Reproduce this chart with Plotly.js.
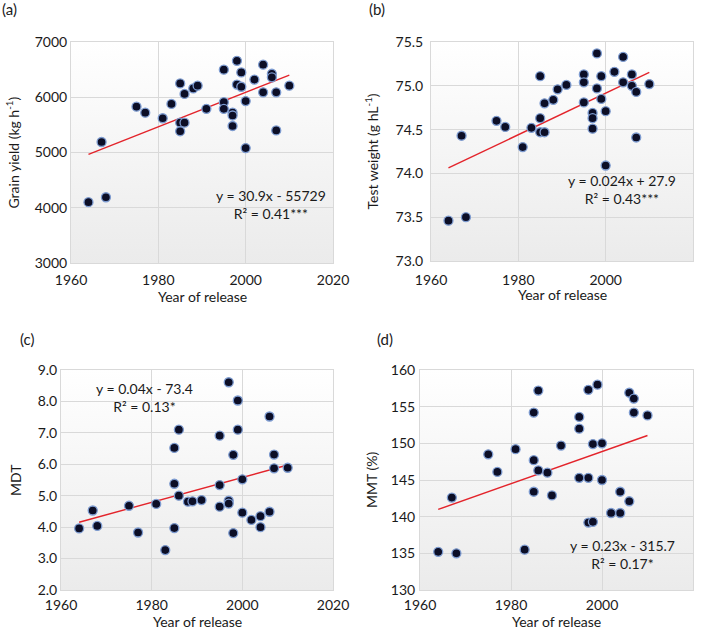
<!DOCTYPE html>
<html>
<head>
<meta charset="utf-8">
<script src="https://cdn.plot.ly/plotly-3.0.1.min.js"></script>
<style>html,body{margin:0;padding:0;background:#fff;}#chart{width:708px;height:631px;}</style>
</head>
<body>
<div id="chart"></div>
<script>
// ---- Data ----
const years = [1964,1967,1968,1975,1977,1981,1983,1985,1985,1985,1986,1986,1988,1989,1991,1995,1995,1995,1997,1997,1997,1998,1998,1999,1999,2000,2000,2002,2004,2004,2006,2006,2007,2007,2010];
const grainYield = [4100,5190,4190,5830,5720,5620,5880,6250,5540,5385,5540,6060,6160,6210,5790,6500,5910,5790,5720,5670,5480,6660,6230,6450,6190,5930,5080,6320,6590,6090,6425,6360,6090,5400,6210];
const testWeight = [73.46,74.43,73.50,74.60,74.53,74.30,74.52,75.11,74.63,74.47,74.80,74.47,74.84,74.96,75.01,75.13,75.04,74.81,74.69,74.63,74.51,75.37,74.97,75.11,74.85,74.71,74.09,75.16,75.33,75.04,75.13,75.00,74.93,74.41,75.02];
const mdt = [3.96,4.53,4.04,4.68,3.83,4.74,3.27,6.52,5.38,3.97,7.10,5.00,4.81,4.82,4.86,6.91,5.34,4.65,8.61,4.84,4.75,6.30,3.81,8.03,7.10,5.52,4.46,4.23,4.35,4.00,7.52,4.49,6.31,5.87,5.89];
const yearsD = [1964,1967,1968,1975,1977,1981,1983,1985,1985,1985,1986,1986,1988,1989,1991,1995,1995,1995,1997,1997,1997,1998,1998,1999,2000,2000,2002,2004,2004,2006,2006,2007,2007,2010];
const mmt = [135.2,142.6,135.0,148.5,146.1,149.2,135.5,154.2,147.7,143.4,157.2,146.3,146.0,142.9,149.7,153.6,152.0,145.3,157.3,145.3,139.2,149.9,139.3,158.0,150.0,145.0,140.5,143.4,140.5,156.9,142.1,156.1,154.2,153.8];

const panelLabels = ["(a)","(b)","(c)","(d)"];
const yTitles = ["Grain yield (kg h<sup>-1</sup>)","Test weight (g hL<sup>-1</sup>)","MDT","MMT (%)"];
const xTitle = "Year of release";
const equations = ["y = 30.9x - 55729<br>R² = 0.41***","y = 0.024x + 27.9<br>R² = 0.43***","y = 0.04x - 73.4<br>R² = 0.13*","y = 0.23x - 315.7<br>R² = 0.17*"];
const eqPos = [[2005.8,4056],[2003.7,73.82],[1978.5,8.11],[2004.4,134.9]];
const yRanges = [[3000,7000],[73.0,75.5],[2.0,9.0],[130,160]];
const yDticks = [1000,0.5,1,5];
const yFormats = ["d",".1f",".1f","d"];

// ---- Layout geometry (px) ----
const W = 708, H = 631;
const boxes = [ // [left, right, top, bottom]
  [71,333,42,263],
  [431,693,42,261],
  [61,333,370,590],
  [420,693,370,590]
];
const labelPos = [[0,9],[367,9],[18,339],[375,339]];
const xTitleY = [297,294,621,621];
const yTitleX = [13,372,15,371];
const xTickStandoff = [4,6,2,2];
const yTickStandoff = [0,4,0,1];

const FONT = "Lato, 'Open Sans', sans-serif";
const TXT = "#1a1a1a";

function ols(x,y){
  const n=x.length; let sx=0,sy=0,sxx=0,sxy=0;
  for(let i=0;i<n;i++){sx+=x[i];sy+=y[i];sxx+=x[i]*x[i];sxy+=x[i]*y[i];}
  const b=(n*sxy-sx*sy)/(n*sxx-sx*sx); const a=(sy-b*sx)/n; return [a,b];
}

const grad = 'data:image/svg+xml;base64,' + btoa('<svg xmlns="http://www.w3.org/2000/svg" width="10" height="100" viewBox="0 0 10 100" preserveAspectRatio="none"><defs><linearGradient id="g" x1="0" y1="0" x2="0" y2="1"><stop offset="0" stop-color="#ffffff"/><stop offset="1" stop-color="#ebebeb"/></linearGradient></defs><rect width="10" height="100" fill="url(#g)"/></svg>');

const series = [[years,grainYield],[years,testWeight],[years,mdt],[yearsD,mmt]];
const traces = [];
const layout = {
  width: W, height: H,
  margin: {l:0,r:0,t:0,b:0},
  paper_bgcolor: "#ffffff",
  plot_bgcolor: "rgba(0,0,0,0)",
  showlegend: false,
  font: {family: FONT, size: 14, color: TXT},
  annotations: [], images: []
};

series.forEach((s,i)=>{
  const xa = i===0 ? 'x' : 'x'+(i+1);
  const ya = i===0 ? 'y' : 'y'+(i+1);
  const [xs,ys] = s;
  const [a,b] = ols(xs,ys);
  const xmin = Math.min(...xs), xmax = Math.max(...xs);
  traces.push({
    type:'scatter', mode:'lines', x:[xmin,xmax], y:[a+b*xmin,a+b*xmax],
    xaxis:xa, yaxis:ya, line:{color:'#e3242b', width:1.4}, hoverinfo:'skip'
  });
  traces.push({
    type:'scatter', mode:'markers', x:xs, y:ys, xaxis:xa, yaxis:ya,
    marker:{size:9, color:'#0c0e26', line:{color:'#7d9bd0', width:1.3}}
  });
  const [L,R,T,B] = boxes[i];
  const dx = [L/W, R/W], dy = [1-B/H, 1-T/H];
  const axCommon = {
    showline:true, mirror:true, linecolor:'#d9d9d9', linewidth:1,
    showgrid:true, gridcolor:'#d9d9d9', gridwidth:1, zeroline:false,
    ticks:'', automargin:false, tickfont:{family:FONT,size:14,color:TXT}
  };
  layout['xaxis'+(i===0?'':i+1)] = Object.assign({}, axCommon, {
    domain: dx, anchor: ya, range:[1960,2020], tickmode:'linear', tick0:1960, dtick:20,
    ticklabelstandoff: xTickStandoff[i]
  });
  layout['yaxis'+(i===0?'':i+1)] = Object.assign({}, axCommon, {
    domain: dy, anchor: xa, range: yRanges[i], tickmode:'linear', tick0: yRanges[i][0], dtick: yDticks[i],
    tickformat: yFormats[i], ticklabelstandoff: yTickStandoff[i]
  });
  layout.images.push({source:grad, xref:'paper', yref:'paper', x:dx[0], y:dy[1], sizex:dx[1]-dx[0], sizey:dy[1]-dy[0], sizing:'stretch', xanchor:'left', yanchor:'top', layer:'below'});
  // axis titles
  layout.annotations.push({
    xref:'paper', yref:'paper', x:(L+R)/2/W, y:1-xTitleY[i]/H, text:xTitle, showarrow:false,
    xanchor:'center', yanchor:'middle', font:{family:FONT,size:14,color:TXT}
  });
  layout.annotations.push({
    xref:'paper', yref:'paper', x:yTitleX[i]/W, y:1-(T+B)/2/H, text:yTitles[i], showarrow:false,
    textangle:-90, xanchor:'center', yanchor:'middle', font:{family:FONT,size:14,color:TXT}
  });
  // regression equation
  layout.annotations.push({
    xref:xa, yref:ya, x:eqPos[i][0], y:eqPos[i][1], text:equations[i], showarrow:false,
    align:'center', xanchor:'center', yanchor:'middle', font:{family:FONT,size:14,color:TXT}
  });
  // panel label
  layout.annotations.push({
    xref:'paper', yref:'paper', x:labelPos[i][0]/W, y:1-labelPos[i][1]/H, text:panelLabels[i], showarrow:false,
    xanchor:'left', yanchor:'middle', font:{family:FONT,size:15,color:TXT}
  });
});

Plotly.newPlot('chart', traces, layout, {displayModeBar:false, staticPlot:true});
</script>
</body>
</html>
